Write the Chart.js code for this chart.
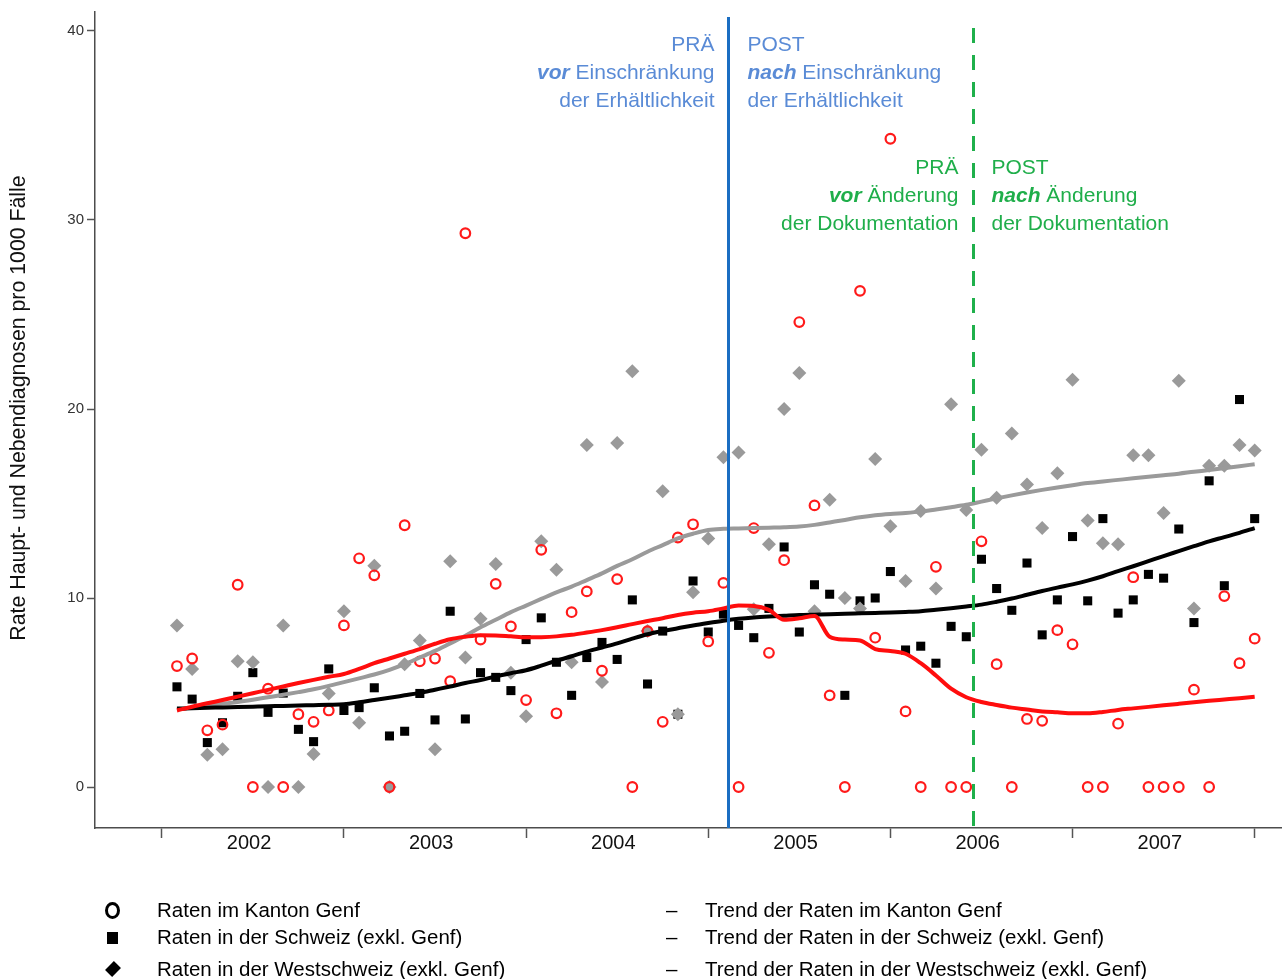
<!DOCTYPE html>
<html><head><meta charset="utf-8">
<script src="https://cdn.jsdelivr.net/npm/chart.js@4.4.1/dist/chart.umd.min.js"></script>
<style>
html,body{margin:0;padding:0;background:#fff;}
#wrap{position:relative;width:1282px;height:979px;overflow:hidden;background:#fff;}
#c{position:absolute;left:0;top:0;}
.leg{position:absolute;font-family:"Liberation Sans",Arial,sans-serif;font-size:20.5px;line-height:20px;color:#000;white-space:nowrap;}
.sym-o{position:absolute;width:9px;height:11px;border:3px solid #000;border-radius:50%;}
.sym-s{position:absolute;width:11px;height:12px;background:#000;}
.sym-d{position:absolute;width:10px;height:10px;background:#000;transform:rotate(45deg) scaleY(1.25);}
</style></head><body>
<div id="wrap">
<canvas id="c" width="1282" height="979"></canvas>
<div class="sym-o" style="left:105px;top:902px;"></div>
<div class="leg" style="left:157px;top:900px;">Raten im Kanton Genf</div>
<div class="sym-s" style="left:107px;top:932px;"></div>
<div class="leg" style="left:157px;top:927px;">Raten in der Schweiz (exkl. Genf)</div>
<div class="sym-d" style="left:108px;top:964px;"></div>
<div class="leg" style="left:157px;top:959px;">Raten in der Westschweiz (exkl. Genf)</div>
<div class="leg" style="left:666px;top:900px;">–</div>
<div class="leg" style="left:705px;top:900px;">Trend der Raten im Kanton Genf</div>
<div class="leg" style="left:666px;top:927px;">–</div>
<div class="leg" style="left:705px;top:927px;">Trend der Raten in der Schweiz (exkl. Genf)</div>
<div class="leg" style="left:666px;top:959px;">–</div>
<div class="leg" style="left:705px;top:959px;">Trend der Raten in der Westschweiz (exkl. Genf)</div>
</div>
<script>
// ---- data (monthly, Jan 2002 .. Dec 2007) ----
const years = ['2002','2003','2004','2005','2006','2007'];
const genf = [6.4,6.8,3.0,3.3,10.7,0,5.2,0,3.85,3.45,4.05,8.55,
  12.1,11.2,0,13.85,6.65,6.8,5.6,29.3,7.8,10.75,8.5,4.6,
  12.55,3.9,9.25,10.35,6.15,11.0,0,8.25,3.45,13.2,13.9,7.7,
  10.8,0,13.7,7.1,12.0,24.6,14.9,4.85,0,26.25,7.9,34.3,
  4.0,0,11.65,0,0,13.0,6.5,0,3.6,3.5,8.3,7.55,
  0,0,3.35,11.1,0,0,0,5.15,0,10.1,6.55,7.85];
const schweiz = [5.3,4.65,2.35,3.4,4.8,6.05,3.95,4.97,3.05,2.4,6.25,4.05,
  4.2,5.25,2.7,2.95,4.95,3.55,9.3,3.6,6.05,5.8,5.1,7.8,
  8.95,6.6,4.85,6.85,7.65,6.75,9.9,5.45,8.25,3.85,10.9,8.2,
  9.15,8.55,7.9,9.45,12.7,8.2,10.7,10.2,4.85,9.85,10.0,11.4,
  7.25,7.45,6.55,8.5,7.95,12.05,10.5,9.35,11.85,8.05,9.9,13.25,
  9.85,14.2,9.2,9.9,11.25,11.05,13.65,8.7,16.2,10.65,20.5,14.2];
const westschweiz = [8.55,6.25,1.7,2.0,6.65,6.6,0,8.55,0,1.75,4.95,9.3,
  3.4,11.7,0,6.5,7.75,2.0,11.95,6.85,8.9,11.8,6.05,3.75,
  13.0,11.5,6.6,18.1,5.55,18.2,22.0,8.25,15.65,3.85,10.3,13.15,
  17.45,17.7,9.4,12.85,20.0,21.9,9.3,15.2,10.0,9.45,17.35,13.8,
  10.9,14.6,10.5,20.25,14.65,17.85,15.3,18.7,16.0,13.7,16.6,21.55,
  14.1,12.9,12.85,17.55,17.55,14.5,21.5,9.45,17.0,17.0,18.1,17.8];
const trendGenf = [4.05,4.25,4.43,4.6,4.78,4.96,5.14,5.32,5.5,5.67,5.83,5.98,
  6.25,6.55,6.8,7.05,7.3,7.58,7.82,7.95,8.03,8.02,7.97,7.92,
  7.93,7.97,8.05,8.17,8.3,8.45,8.62,8.78,8.93,9.1,9.22,9.3,
  9.45,9.6,9.58,9.37,8.85,8.93,9.05,7.95,7.8,7.75,7.3,7.2,
  7.05,6.55,5.9,5.2,4.75,4.5,4.34,4.2,4.1,4.0,3.95,3.9,
  3.9,3.97,4.08,4.16,4.24,4.32,4.4,4.48,4.56,4.63,4.7,4.78];
const trendSchweiz = [4.15,4.17,4.19,4.21,4.23,4.25,4.27,4.29,4.31,4.33,4.35,4.38,
  4.48,4.6,4.72,4.85,4.98,5.15,5.32,5.5,5.66,5.85,6.02,6.18,
  6.42,6.68,6.92,7.16,7.38,7.6,7.85,8.08,8.25,8.4,8.55,8.68,
  8.8,8.9,8.97,9.02,9.06,9.1,9.12,9.14,9.17,9.19,9.21,9.23,
  9.26,9.3,9.38,9.46,9.55,9.65,9.8,9.97,10.17,10.37,10.55,10.72,
  10.92,11.15,11.42,11.68,11.95,12.22,12.48,12.74,13.0,13.22,13.45,13.7];
const trendWest = [4.1,4.2,4.3,4.4,4.5,4.62,4.75,4.88,5.02,5.17,5.35,5.55,
  5.75,5.95,6.2,6.5,6.85,7.2,7.6,8.0,8.45,8.85,9.25,9.6,
  9.95,10.3,10.6,10.95,11.3,11.7,12.05,12.45,12.8,13.15,13.4,13.6,
  13.66,13.68,13.7,13.72,13.74,13.78,13.87,14.0,14.13,14.27,14.38,14.45,
  14.5,14.57,14.68,14.8,14.93,15.1,15.27,15.43,15.58,15.72,15.85,15.97,
  16.08,16.17,16.25,16.33,16.42,16.5,16.58,16.68,16.77,16.87,16.97,17.08];
const yTicks = [0,10,20,30,40];
const restrictionMonth = 36.3;   // Einschränkung der Erhältlichkeit
const docChangeMonth = 52.45;    // Änderung der Dokumentation

// months as index positions (0 = Jan 2002)
const monthIndex = [];
years.forEach((y, yi) => { for (let m = 0; m < 12; m++) monthIndex.push(yi * 12 + m); });
const pts = arr => arr.map((v, i) => ({x: monthIndex[i], y: v}));
const yearBoundaries = years.map((y, i) => i * 12 - 1).concat([years.length * 12 - 1]);
const yearCenters = years.map((y, i) => i * 12 + 4.75);

const FONT = '"Liberation Sans", Arial, sans-serif';
Chart.defaults.font.family = FONT;

const annot = {
  id: 'annot',
  afterDatasetsDraw(chart) {
    const {ctx, chartArea, scales: {x, y}} = chart;
    ctx.save();
    // blue solid line
    const bx = Math.round(x.getPixelForValue(restrictionMonth)) + 0.5;
    ctx.strokeStyle = '#1b6ec2';
    ctx.lineWidth = 3;
    ctx.beginPath(); ctx.moveTo(bx, chartArea.top + 5); ctx.lineTo(bx, chartArea.bottom); ctx.stroke();
    // green dashed
    const gx = Math.round(x.getPixelForValue(docChangeMonth)) + 0.5;
    ctx.strokeStyle = '#1fb04b';
    ctx.setLineDash([15, 12]);
    ctx.beginPath(); ctx.moveTo(gx, chartArea.top + 16); ctx.lineTo(gx, chartArea.bottom); ctx.stroke();
    ctx.setLineDash([]);

    const size = 21;
    const reg = size + 'px ' + FONT;
    const bold = 'italic bold ' + size + 'px ' + FONT;
    function block(xr, xl, base, color, word, pre, post) {
      ctx.fillStyle = color;
      ctx.textBaseline = 'alphabetic';
      ctx.font = reg; ctx.textAlign = 'right';
      ctx.fillText('PRÄ', xr, base[0]);
      const restW = ctx.measureText(' ' + word).width;
      ctx.fillText(' ' + word, xr, base[1]);
      ctx.font = bold;
      ctx.fillText(pre, xr - restW, base[1]);
      ctx.font = reg;
      ctx.fillText(post, xr, base[2]);
      ctx.textAlign = 'left';
      ctx.fillText('POST', xl, base[0]);
      ctx.font = bold;
      const nw = ctx.measureText('nach').width;
      ctx.fillText('nach', xl, base[1]);
      ctx.font = reg;
      ctx.fillText(' ' + word, xl + nw, base[1]);
      ctx.fillText(post, xl, base[2]);
    }
    block(bx - 14, bx + 19, [51, 79, 107], '#5a8bd6', 'Einschränkung', 'vor', 'der Erhältlichkeit');
    block(gx - 15, gx + 18, [174, 202, 230], '#1fae4a', 'Änderung', 'vor', 'der Dokumentation');

    // y axis title
    ctx.save();
    ctx.translate(19, 408);
    ctx.rotate(-Math.PI / 2);
    ctx.font = '21.3px ' + FONT;
    ctx.fillStyle = '#111';
    ctx.textAlign = 'center';
    ctx.textBaseline = 'middle';
    ctx.fillText('Rate Haupt- und Nebendiagnosen pro 1000 Fälle', 0, 0);
    ctx.restore();
    ctx.restore();
  }
};

new Chart(document.getElementById('c'), {
  type: 'scatter',
  data: {
    datasets: [
      {label: 'Trend der Raten im Kanton Genf', data: pts(trendGenf), showLine: true, borderColor: '#ff0d0d', borderWidth: 4, pointRadius: 0, cubicInterpolationMode: 'monotone'},
      {label: 'Trend der Raten in der Schweiz (exkl. Genf)', data: pts(trendSchweiz), showLine: true, borderColor: '#000000', borderWidth: 4, pointRadius: 0, cubicInterpolationMode: 'monotone'},
      {label: 'Trend der Raten in der Westschweiz (exkl. Genf)', data: pts(trendWest), showLine: true, borderColor: '#9a9a9a', borderWidth: 4, pointRadius: 0, cubicInterpolationMode: 'monotone'},
      {label: 'Raten im Kanton Genf', data: pts(genf), pointStyle: 'circle', pointRadius: 4.8, pointBorderWidth: 2.2, borderColor: '#ff1a1a', pointBorderColor: '#ff1a1a', pointBackgroundColor: 'rgba(0,0,0,0)', backgroundColor: 'rgba(0,0,0,0)'},
      {label: 'Raten in der Westschweiz (exkl. Genf)', data: pts(westschweiz), pointStyle: 'rectRot', pointRadius: 7, pointBorderWidth: 0, pointBackgroundColor: '#9a9a9a', backgroundColor: '#9a9a9a', borderColor: '#9a9a9a'},
      {label: 'Raten in der Schweiz (exkl. Genf)', data: pts(schweiz), pointStyle: 'rect', pointRadius: 6.4, pointBorderWidth: 0, pointBackgroundColor: '#000', backgroundColor: '#000', borderColor: '#000'}
    ]
  },
  options: {
    responsive: false,
    animation: false,
    devicePixelRatio: 1,
    layout: {autoPadding: false, padding: {top: 12, right: 0, bottom: 111, left: 0}},
    plugins: {legend: {display: false}, tooltip: {enabled: false}},
    scales: {
      x: {
        type: 'linear', min: -5.4, max: 72.8, bounds: 'data',
        afterFit: s => { s.height = 40; },
        afterBuildTicks: s => {
          s.ticks = yearBoundaries.map(v => ({value: v})).concat(yearCenters.map(v => ({value: v})))
            .sort((a, b) => a.value - b.value);
        },
        ticks: {
          autoSkip: false, maxRotation: 0, padding: -7, color: '#111',
          font: {size: 20},
          callback: v => { const k = yearCenters.indexOf(v); return k >= 0 ? years[k] : ''; }
        },
        grid: {drawOnChartArea: false, tickLength: 10, tickWidth: 1.5,
          tickColor: c => (c.tick && yearBoundaries.includes(c.tick.value)) ? '#555' : 'rgba(0,0,0,0)'},
        border: {color: '#4d4d4d', width: 1.5}
      },
      y: {
        min: -2.169, max: 41.005, bounds: 'data',
        afterFit: s => { s.width = 95; },
        afterBuildTicks: s => { s.ticks = yTicks.map(v => ({value: v})); },
        ticks: {color: '#333', font: {size: 15}, padding: 3},
        grid: {drawOnChartArea: false, tickLength: 8, tickWidth: 1.5, tickColor: '#555'},
        border: {color: '#4d4d4d', width: 1.5}
      }
    }
  },
  plugins: [annot]
});
</script>
</body></html>
